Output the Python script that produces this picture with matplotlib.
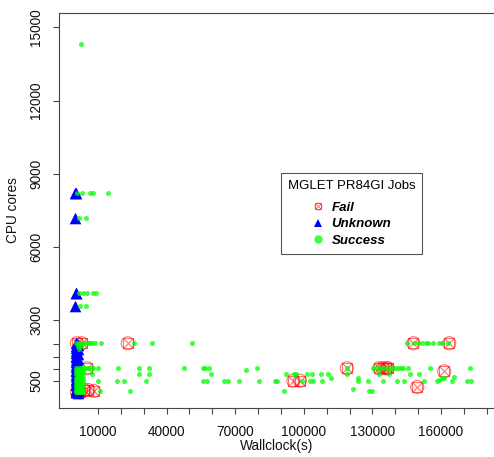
import matplotlib.pyplot as plt
from matplotlib.lines import Line2D

plt.rcParams["font.family"] = ["Liberation Sans", "DejaVu Sans"]

# failed jobs: wallclock seconds and core count
fail_wall = [700, 2900, 800, 2100, 4000, 5200, 5800, 8200, 23000, 95400, 98300,
             118800, 133000, 134500, 136000, 136800, 147900, 149600, 161400, 163600]
fail_cores = [2048, 2048, 48, 32, 128, 1024, 128, 96, 2048, 512, 512,
              1024, 1024, 1024, 1024, 1024, 2048, 256, 896, 2048]

# jobs with unknown exit state
unk_wall = [100, 600, 50, 400, 300, 100,
            200, 1100, 600, 200, 1100, 600, 200, 1100, 600, 200, 1100, 600,
            200, 1100, 600, 200, 1100, 600, 200, 1100, 600, 200, 1100, 600,
            200, 1100, 600, 200, 1100, 600, 200, 1100, 600, 200, 1100]
unk_cores = [8192, 8192, 7168, 4096, 4096, 3584,
             2048, 1984, 1920, 1856, 1792, 1728, 1664, 1600, 1536, 1472, 1408, 1344,
             1280, 1216, 1152, 1088, 1024, 960, 896, 832, 768, 704, 640, 576,
             512, 448, 384, 320, 256, 192, 128, 96, 64, 32, 16]

# successful jobs, short runs on the left edge
ok_col_wall = [300, 1500, 2700, 900, 2100, 3300, 300, 1500, 2700, 900, 2100, 3300,
               300, 1500, 2700, 900, 2100, 3300, 300, 1500, 2700, 900, 2100, 3300,
               300, 1500, 2700, 900, 2100, 3300, 300, 1500, 2700, 900, 2100, 3300,
               300, 1500, 2700, 900, 2100, 3300, 300, 1500, 2700, 900, 2100, 3300,
               300, 1500, 2700, 1200, 2400, 1800]
ok_col_cores = [1024, 1024, 1024, 960, 960, 960, 896, 896, 896, 832, 832, 832,
                768, 768, 768, 704, 704, 704, 640, 640, 640, 576, 576, 576,
                512, 512, 512, 448, 448, 448, 384, 384, 384, 320, 320, 320,
                256, 256, 256, 192, 192, 192, 128, 128, 128, 64, 64, 64,
                32, 32, 32, 1920, 1920, 1792]

# successful jobs, everything else
ok_wall = [2400,
           700, 2900, 6500, 7700, 14500,
           1700, 4600,
           1800, 3600, 5300, 7700, 9100,
           2000, 4600,
           500, 1500, 2500, 3500, 4500, 5500, 6500, 7400, 8700, 11300, 25700, 33800,
           51200, 145000, 148000, 150100, 151500, 153400, 154400, 156600, 159300,
           160500, 163200,
           3400, 4300, 5600, 6500, 7800, 10000, 18700, 27900, 32300, 47600, 55800,
           56800, 58500, 79400, 118800, 130300, 131600, 133300, 135100, 136800,
           138600, 139900, 141300, 142300, 143500, 145700, 155200, 172700,
           74700,
           7400, 27900, 32300, 59400, 92200, 95700, 96600, 101500, 103700, 107500,
           110700, 118800, 133000, 137400, 146400, 150500,
           111900, 123600,
           10000, 18300, 21400, 30900, 55800, 57500, 65100, 66700, 71700, 80400,
           87400, 88100, 99100, 102700, 103900, 107800, 123600, 128200, 134500,
           140600, 143800, 152600, 158100, 164700, 171500, 173000,
           159300, 160300, 161300, 165700,
           10900, 24000, 91300, 128600, 129600, 121400]
ok_cores = [14336,
            8192, 8192, 8192, 8192, 8192,
            7168, 7168,
            4096, 4096, 4096, 4096, 4096,
            3584, 3584,
            2048, 2048, 2048, 2048, 2048, 2048, 2048, 2048, 2048, 2048, 2048, 2048,
            2048, 2048, 2048, 2048, 2048, 2048, 2048, 2048, 2048,
            2048, 2048,
            1024, 1024, 1024, 1024, 1024, 1024, 1024, 1024, 1024, 1024, 1024,
            1024, 1024, 1024, 1024, 1024, 1024, 1024, 1024, 1024,
            1024, 1024, 1024, 1024, 1024, 1024, 1024, 1024,
            960,
            768, 768, 768, 768, 768, 768, 768, 768, 768, 768,
            768, 768, 768, 768, 768, 768,
            640, 640,
            512, 512, 512, 512, 512, 512, 512, 512, 512, 512,
            512, 512, 512, 512, 512, 512, 512, 512, 512,
            512, 512, 512, 512, 512, 512, 512,
            544, 608, 640, 672,
            96, 96, 96, 96, 96, 192]

x_ticks = list(range(10000, 180001, 10000))
x_labels = ["10000", "40000", "70000", "100000", "130000", "160000"]
y_ticks = [500, 1000, 1500, 2000, 3000, 6000, 9000, 12000, 15000]
y_labels = ["500", "", "", "", "3000", "6000", "9000", "12000", "15000"]

red = (1.0, 0.0, 0.0, 0.55)
blue = "#0000ff"
green = (0.0, 1.0, 0.0, 0.75)
axis_col = "#444444"

fig = plt.figure(figsize=(4.94, 4.57), dpi=100)
ax = fig.add_axes([59 / 494, 49 / 457, 436 / 494, 395 / 457])

# failures drawn as circle + boxed cross
ax.scatter(fail_wall, fail_cores, s=88, marker="o", facecolors="none",
           edgecolors=[red], linewidths=0.8, zorder=2)
ax.scatter(fail_wall, fail_cores, s=50, marker="s", facecolors="none",
           edgecolors=[red], linewidths=0.8, zorder=2)
ax.scatter(fail_wall, fail_cores, s=50, marker="x", color=[red],
           linewidths=0.8, zorder=2)

ax.scatter(unk_wall, unk_cores, s=70, marker="^", color=blue, linewidths=0, zorder=3)

ax.scatter(ok_col_wall + ok_wall, ok_col_cores + ok_cores, s=13, marker="o",
           color=[green], linewidths=0, zorder=4)

ax.set_xlim(-7050, 183600)
ax.set_ylim(-607, 15590)

ax.set_xticks(x_ticks)
ax.set_xticklabels([x_labels[i // 3] if i % 3 == 0 else "" for i in range(len(x_ticks))])
ax.set_yticks(y_ticks)
ax.set_yticklabels(y_labels)
ax.tick_params(axis="both", length=4.4, width=0.8, color=axis_col,
               labelsize=9.8, pad=8, labelcolor="#111111")
ax.tick_params(axis="y", labelrotation=90, pad=7)
for lab in ax.get_yticklabels():
    lab.set_va("center")

for side in ("left", "bottom", "top", "right"):
    ax.spines[side].set_color(axis_col)
    ax.spines[side].set_linewidth(0.8)

ax.set_xlabel("Wallclock(s)", fontsize=9.8, va="center", color="#111111")
ax.set_ylabel("CPU cores", fontsize=9.8, va="center", color="#111111")
ax.xaxis.set_label_coords((277 - 59) / 436, (408 - 446) / 395)
ax.yaxis.set_label_coords((13 - 59) / 436, 0.5)

fail_handle = (
    Line2D([], [], ls="none", marker="o", ms=5, mfc="none", mec=red, mew=0.7),
    Line2D([], [], ls="none", marker="s", ms=4, mfc="none", mec=red, mew=0.7),
    Line2D([], [], ls="none", marker="x", ms=4, mec=red, mew=0.7),
)
unk_handle = Line2D([], [], ls="none", marker="^", ms=6, color=blue, mew=0)
ok_handle = Line2D([], [], ls="none", marker="o", ms=6, color=green, mew=0)

leg = ax.legend([fail_handle, unk_handle, ok_handle], ["Fail", "Unknown", "Success"],
                loc="upper left", bbox_to_anchor=(281 / 494, 1 - 173 / 457),
                bbox_transform=fig.transFigure, borderaxespad=0,
                title="MGLET PR84GI Jobs", title_fontsize=9.5,
                prop={"weight": "bold", "style": "italic", "size": 9.5},
                fancybox=False, framealpha=1, edgecolor="#555555",
                borderpad=0.5, handlelength=1.0, handletextpad=0.5,
                labelspacing=0.34)
leg.get_frame().set_linewidth(0.8)
# extra gap between the title and the entries
leg._legend_box.sep = 7.0

fig.savefig("out.png", dpi=100)
